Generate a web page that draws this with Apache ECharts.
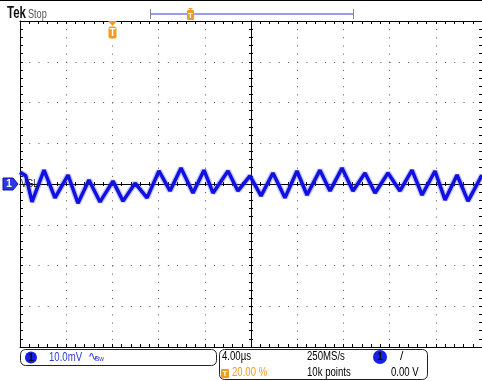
<!DOCTYPE html>
<html><head><meta charset="utf-8">
<script src="https://cdn.jsdelivr.net/npm/echarts@6/dist/echarts.min.js"></script>
<style>html,body{margin:0;padding:0;background:#fff}#c{width:482px;height:381px}</style>
</head><body><div id="c"></div>
<script>
// ---- data (time in µs, voltage in mV) ----
const timeUs = [-20.0,-19.5,-18.96,-17.92,-16.97,-15.84,-14.98,-14.03,-13.07,-11.95,-11.08,-10.04,-9.00,-7.97,-7.01,-6.06,-5.02,-4.07,-3.29,-1.99,-1.13,-0.09,0.87,1.90,2.94,3.98,4.85,5.97,6.84,7.88,8.83,9.87,10.74,11.86,12.90,13.94,14.81,15.93,16.80,17.84,18.79,20.0];
const voltMv = [2.9,2.0,-4.4,3.4,-3.4,2.2,-4.7,1.0,-4.4,0.7,-4.2,0.2,-3.4,3.2,-1.7,3.9,-2.2,3.4,-2.2,3.2,-1.7,2.0,-2.9,2.7,-3.4,3.2,-2.7,3.4,-1.7,3.9,-1.7,2.7,-2.2,2.7,-1.7,3.4,-2.7,3.2,-3.9,2.2,-4.2,2.2];
const timeRange = [-20, 20];   // 10 div x 4 µs
const timePerDiv = 4;
const voltRange = [-40, 40];   // 8 div x 10 mV
const voltPerDiv = 10;
const chLabel = 'VGL';
const chScale = '10.0mV';
const timebase = '4.00\u00b5s';
const sampleRate = '250MS/s';
const recordLen = '10k points';
const trigPos = '20.00 %';
const trigLevel = '0.00 V';

const FONT = "'Liberation Sans','DejaVu Sans',sans-serif";
const ORANGE = '#f39a1e';
const BLUE = '#1010e0';
const black = {color:'#000', width:1};
const SX = 0.8;

function xAx(pos, onZero, inside, ticks, split) {
  return {type:'value', min:timeRange[0], max:timeRange[1], interval:timePerDiv, position:pos,
    axisLine:{show:true, onZero:onZero, onZeroAxisIndex:0, lineStyle:black},
    axisTick:{show:true, inside:inside, length:ticks, lineStyle:black},
    minorTick:{show:true, splitNumber:5, length:ticks, lineStyle:black},
    axisLabel:{show:false},
    splitLine:{show:split, lineStyle:{color:'#555', width:1, type:[1,7.15]}}};
}
function yAx(pos, onZero, inside, ticks, split) {
  return {type:'value', min:voltRange[0], max:voltRange[1], interval:voltPerDiv, position:pos,
    axisLine:{show:true, onZero:onZero, onZeroAxisIndex:0, lineStyle:black},
    axisTick:{show:true, inside:inside, length:ticks, lineStyle:black},
    minorTick:{show:true, splitNumber:5, length:ticks, lineStyle:black},
    axisLabel:{show:false},
    splitLine:{show:split, lineStyle:{color:'#555', width:1, type:[1,8.24]}}};
}

const pts = timeUs.map((t,i)=>[t, voltMv[i]]);
const chart = echarts.init(document.getElementById('c'), null, {renderer:'canvas'});

function T(x,y,s,o,sx){return {type:'text', x:x, y:y, z:110, zlevel:0, scaleX:(sx==null?SX:sx), style:Object.assign({text:s, fill:'#000', font:'12px '+FONT, align:'left', verticalAlign:'middle'}, o||{})};}

const graphics = [
  {type:'line', z:100, shape:{x1:0,y1:0.5,x2:482,y2:0.5}, style:{stroke:'#000', lineWidth:1}},
  T(7,14,'Tek',{font:'bold 16px '+FONT, fill:'#111'},0.72),
  T(28,14,'Stop',{font:'13px '+FONT, fill:'#555'},0.7),
  // record bar
  {type:'line', z:100, shape:{x1:150,y1:14,x2:353,y2:14}, style:{stroke:'#9b9bf0', lineWidth:2}},
  {type:'line', z:100, shape:{x1:150.5,y1:9,x2:150.5,y2:19}, style:{stroke:'#888', lineWidth:1}},
  {type:'line', z:100, shape:{x1:353.5,y1:9,x2:353.5,y2:19}, style:{stroke:'#888', lineWidth:1}},
  {type:'rect', z:100, shape:{x:187,y:10,width:7,height:10,r:1}, style:{fill:ORANGE}},
  {type:'polygon', z:100, shape:{points:[[188,8],[193,8],[190.5,10]]}, style:{fill:ORANGE}},
  T(190.5,15.5,'T',{font:'bold 8px '+FONT, fill:'#fff', align:'center'},1),
  // trigger position marker
  {type:'polygon', z:100, shape:{points:[[108,21],[117,21],[112.5,26]]}, style:{fill:ORANGE}},
  {type:'rect', z:100, shape:{x:108.5,y:26.5,width:8,height:12,r:2}, style:{fill:ORANGE}},
  T(112.5,33,'T',{font:'bold 10px '+FONT, fill:'#fff', align:'center'},1),
  // bottom box 1
  {type:'rect', z:100, shape:{x:20.5,y:349.5,width:196,height:16,r:5}, style:{fill:'#fff', stroke:'#222', lineWidth:1}},
  {type:'circle', z:101, shape:{cx:31,cy:357.5,r:6}, style:{fill:'#1520e8'}},
  T(31,358,'1',{font:'bold 10px '+FONT, fill:'#000', align:'center'},1),
  T(49,358,chScale,{fill:'#2a3ad8'}),
  T(88,357,'\u223f',{font:'12px DejaVu Sans', fill:'#2a3ad8'},1),
  T(95,359,'Bw',{font:'8px '+FONT, fill:'#2a3ad8'}),
  // bottom box 2
  {type:'rect', z:100, shape:{x:219.5,y:349.5,width:208,height:30,r:5}, style:{fill:'#fff', stroke:'#222', lineWidth:1}},
  T(222,357,timebase),
  T(307,357,sampleRate),
  {type:'circle', z:101, shape:{cx:380,cy:357,r:7}, style:{fill:'#1520e8'}},
  T(380,357.5,'1',{font:'bold 10px '+FONT, fill:'#000', align:'center'},1),
  T(400,357,'/',{},1),
  {type:'rect', z:100, shape:{x:221,y:369,width:8,height:9,r:1}, style:{fill:ORANGE}},
  T(225,373.5,'T',{font:'bold 8px '+FONT, fill:'#fff', align:'center'},1),
  T(232,373,trigPos,{fill:ORANGE}),
  T(307,373,recordLen),
  T(391,373,trigLevel)
];

chart.setOption({
  animation:false,
  backgroundColor:'#fff',
  grid:{left:20, top:21, width:462, height:326, containLabel:false},
  xAxis:[xAx('bottom',true,false,2,true), xAx('top',true,false,2,false), xAx('top',false,true,3,false), xAx('bottom',false,true,3,false)],
  yAxis:[yAx('left',true,false,2,true), yAx('right',true,false,2,false), yAx('left',false,true,3,false), yAx('right',false,true,3,false)],
  series:[
    {type:'line', data:pts, xAxisIndex:0, yAxisIndex:0, showSymbol:false, z:3, lineStyle:{color:'#5a5aff', width:6, opacity:0.35}},
    {type:'line', data:pts, xAxisIndex:0, yAxisIndex:0, showSymbol:false, z:4, lineStyle:{color:BLUE, width:3.5}}
  ],
  graphic:graphics
});

// channel marker at 0 level
const zp = chart.convertToPixel({xAxisIndex:0, yAxisIndex:0}, [timeRange[0], 0]);
const cy = zp[1];
chart.setOption({graphic: graphics.concat([
  {type:'polygon', z:100, shape:{points:[[3,cy-6],[13,cy-6],[18,cy],[13,cy+6],[3,cy+6]]}, style:{fill:'#2a3ae8', stroke:'#0a10a0', lineWidth:1}},
  T(9,cy+0.5,'1',{font:'bold 10px '+FONT, fill:'#fff', align:'center'},1),
  T(21,cy,chLabel,{font:'10px '+FONT, fill:'#222'},0.85)
])});
</script></body></html>
